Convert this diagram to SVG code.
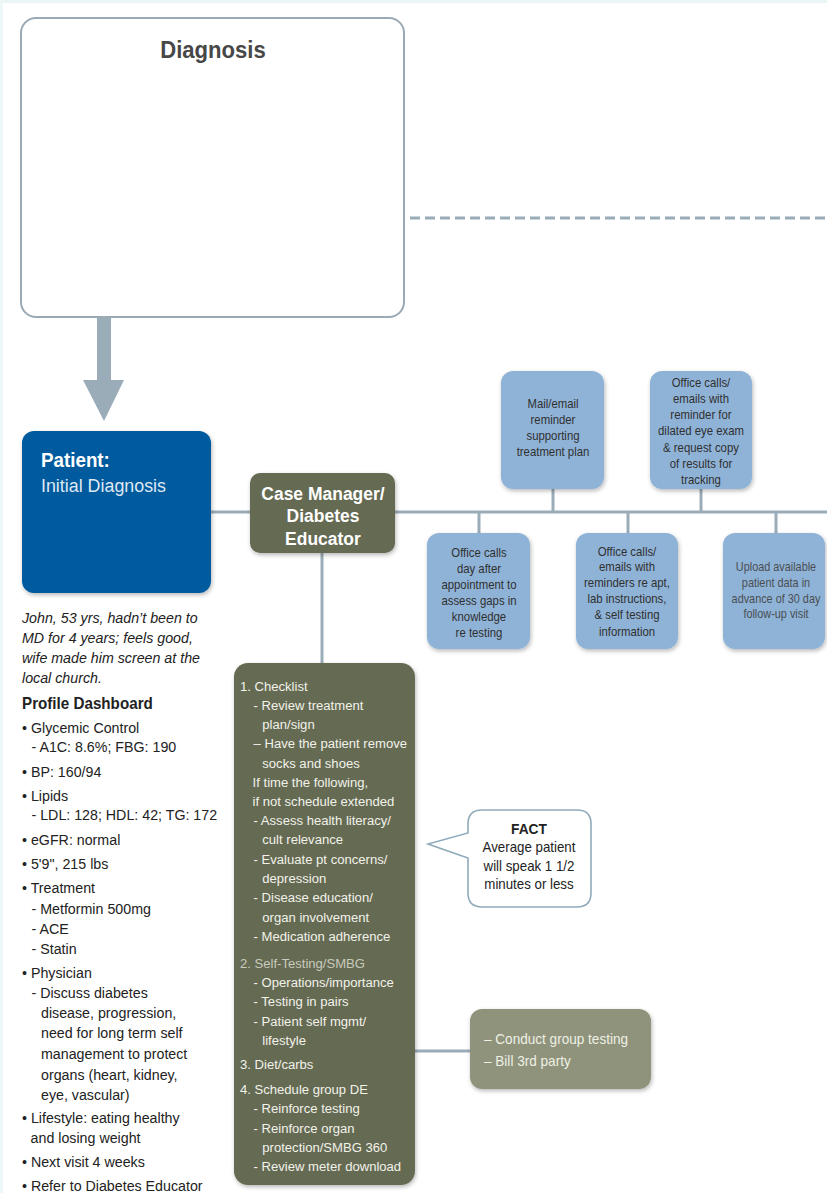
<svg xmlns="http://www.w3.org/2000/svg" width="827" height="1193" viewBox="0 0 827 1193">
<style>
text{font-family:"Liberation Sans Narrow","Liberation Sans",Arial,sans-serif;}
.blue{fill:#8fb3d7;}
.btxt{font-size:12.5px;fill:#2f3030;text-anchor:middle;}
.olive{fill:#656a52;}
.otxt{font-size:13.5px;fill:#f2f2ea;}
.left{font-size:15px;fill:#222;}
.conn{stroke:#9aacb8;stroke-width:3;fill:none;}
</style>
<defs>
<filter id="sh" x="-10%" y="-10%" width="130%" height="130%">
<feDropShadow dx="1" dy="2" stdDeviation="2" flood-color="#000" flood-opacity="0.28"/>
</filter>
</defs>
<rect x="0" y="0" width="827" height="1193" fill="#ffffff"/>
<rect x="0" y="0" width="827" height="3" fill="#eaf5f5"/>
<rect x="0" y="0" width="3" height="1193" fill="#eef7f7"/>

<g id="connectors">
<line class="conn" x1="410" y1="218" x2="827" y2="218" stroke-dasharray="10,5"/>
<rect x="97" y="317" width="14" height="64" fill="#9aacb8"/>
<polygon points="83,380 124,380 104,421" fill="#9aacb8"/>
<line class="conn" x1="211" y1="512" x2="250" y2="512"/>
<line class="conn" x1="395" y1="512" x2="827" y2="512"/>
<line class="conn" x1="553" y1="489" x2="553" y2="512"/>
<line class="conn" x1="701" y1="489" x2="701" y2="512"/>
<line class="conn" x1="479" y1="512" x2="479" y2="533"/>
<line class="conn" x1="628" y1="512" x2="628" y2="533"/>
<line class="conn" x1="776" y1="512" x2="776" y2="533"/>
<line class="conn" x1="322" y1="553" x2="322" y2="663"/>
<line class="conn" x1="415" y1="1051" x2="470" y2="1051"/>
</g>

<g id="diagnosis">
<rect x="21" y="18" width="383" height="299" rx="15" fill="#fff" stroke="#9aaab4" stroke-width="2"/>
<text x="213" y="58" font-size="23" font-weight="bold" fill="#474747" text-anchor="middle" transform="matrix(0.96,0,0,1,8.52,0)">Diagnosis</text>
</g>

<g id="patient">
<rect x="22" y="431" width="189" height="162" rx="12" fill="#005a9e" filter="url(#sh)"/>
<g transform="matrix(0.94,0,0,1,2.46,0)">
<text x="41" y="467" font-size="20" font-weight="bold" fill="#fff">Patient:</text>
<text x="41" y="492" font-size="19" fill="#dfe9f4">Initial Diagnosis</text>
</g>
</g>

<g id="case-manager">
<rect x="250" y="473" width="145" height="80" rx="10" class="olive" filter="url(#sh)"/>
<g transform="matrix(0.92,0,0,1,25.84,0)">
<text x="323" y="500" font-size="19" font-weight="bold" fill="#fff" text-anchor="middle">Case Manager/</text>
<text x="323" y="522" font-size="19" font-weight="bold" fill="#fff" text-anchor="middle">Diabetes</text>
<text x="323" y="545" font-size="19" font-weight="bold" fill="#fff" text-anchor="middle">Educator</text>
</g>
</g>

<g id="mail-reminder">
<rect x="501" y="371" width="103" height="118" rx="12" class="blue" filter="url(#sh)"/>
<g transform="matrix(0.91,0,0,1,49.77,0)">
<text class="btxt" x="553" y="408">Mail/email</text>
<text class="btxt" x="553" y="424">reminder</text>
<text class="btxt" x="553" y="440">supporting</text>
<text class="btxt" x="553" y="456">treatment plan</text>
</g>
</g>

<g id="eye-exam">
<rect x="650" y="371" width="102" height="118" rx="12" class="blue" filter="url(#sh)"/>
<g transform="matrix(0.91,0,0,1,63.09,0)">
<text class="btxt" x="701" y="387">Office calls/</text>
<text class="btxt" x="701" y="403">emails with</text>
<text class="btxt" x="701" y="419">reminder for</text>
<text class="btxt" x="701" y="435">dilated eye exam</text>
<text class="btxt" x="701" y="452">&amp; request copy</text>
<text class="btxt" x="701" y="468">of results for</text>
<text class="btxt" x="701" y="484">tracking</text>
</g>
</g>

<g id="office-calls">
<rect x="427" y="533" width="103" height="116" rx="12" class="blue" filter="url(#sh)"/>
<g transform="matrix(0.91,0,0,1,43.11,0)">
<text class="btxt" x="479" y="557">Office calls</text>
<text class="btxt" x="479" y="573">day after</text>
<text class="btxt" x="479" y="589">appointment to</text>
<text class="btxt" x="479" y="605">assess gaps in</text>
<text class="btxt" x="479" y="621">knowledge</text>
<text class="btxt" x="479" y="637">re testing</text>
</g>
</g>

<g id="reminders-apt">
<rect x="576" y="533" width="102" height="116" rx="12" class="blue" filter="url(#sh)"/>
<g transform="matrix(0.91,0,0,1,56.43,0)">
<text class="btxt" x="627" y="556">Office calls/</text>
<text class="btxt" x="627" y="571">emails with</text>
<text class="btxt" x="627" y="587">reminders re apt,</text>
<text class="btxt" x="627" y="603">lab instructions,</text>
<text class="btxt" x="627" y="619">&amp; self testing</text>
<text class="btxt" x="627" y="636">information</text>
</g>
</g>

<g id="upload">
<rect x="723" y="533" width="102" height="116" rx="12" class="blue" filter="url(#sh)"/>
<g transform="matrix(0.87,0,0,1,100.88,0)">
<text class="btxt" x="776" y="571" style="fill:#4a4e52">Upload available</text>
<text class="btxt" x="776" y="587" style="fill:#4a4e52">patient data in</text>
<text class="btxt" x="776" y="603" style="fill:#4a4e52">advance of 30 day</text>
<text class="btxt" x="776" y="618" style="fill:#4a4e52">follow-up visit</text>
</g>
</g>

<g id="profile" transform="matrix(0.95,0,0,1,1.1,0)">
<text class="left" x="22" y="623" font-style="italic">John, 53 yrs, hadn’t been to</text>
<text class="left" x="22" y="643" font-style="italic">MD for 4 years; feels good,</text>
<text class="left" x="22" y="663" font-style="italic">wife made him screen at the</text>
<text class="left" x="22" y="683" font-style="italic">local church.</text>
<text x="22" y="709" font-size="16" font-weight="bold" fill="#222">Profile Dashboard</text>
<text class="left" x="22" y="733">• Glycemic Control</text>
<text class="left" x="32" y="752">- A1C: 8.6%; FBG: 190</text>
<text class="left" x="22" y="777">• BP: 160/94</text>
<text class="left" x="22" y="801">• Lipids</text>
<text class="left" x="32" y="820">- LDL: 128; HDL: 42; TG: 172</text>
<text class="left" x="22" y="845">• eGFR: normal</text>
<text class="left" x="22" y="869">• 5'9", 215 lbs</text>
<text class="left" x="22" y="893">• Treatment</text>
<text class="left" x="32" y="914">- Metformin 500mg</text>
<text class="left" x="32" y="934">- ACE</text>
<text class="left" x="32" y="954">- Statin</text>
<text class="left" x="22" y="978">• Physician</text>
<text class="left" x="32" y="998">- Discuss diabetes</text>
<text class="left" x="42" y="1018">disease, progression,</text>
<text class="left" x="42" y="1038">need for long term self</text>
<text class="left" x="42" y="1059">management to protect</text>
<text class="left" x="42" y="1080">organs (heart, kidney,</text>
<text class="left" x="42" y="1100">eye, vascular)</text>
<text class="left" x="22" y="1123">• Lifestyle: eating healthy</text>
<text class="left" x="31" y="1143">and losing weight</text>
<text class="left" x="22" y="1167">• Next visit 4 weeks</text>
<text class="left" x="22" y="1191">• Refer to Diabetes Educator</text>
</g>

<g id="checklist">
<rect x="234" y="663" width="181" height="522" rx="14" class="olive" filter="url(#sh)"/>
<g transform="matrix(0.97,0,0,1,7.2,0)">
<text class="otxt" x="240" y="691">1. Checklist</text>
<text class="otxt" x="254" y="710">- Review treatment</text>
<text class="otxt" x="263" y="729">plan/sign</text>
<text class="otxt" x="254" y="748">– Have the patient remove</text>
<text class="otxt" x="263" y="768">socks and shoes</text>
<text class="otxt" x="253" y="787">If time the following,</text>
<text class="otxt" x="253" y="806">if not schedule extended</text>
<text class="otxt" x="254" y="825">- Assess health literacy/</text>
<text class="otxt" x="263" y="844">cult relevance</text>
<text class="otxt" x="254" y="864">- Evaluate pt concerns/</text>
<text class="otxt" x="263" y="883">depression</text>
<text class="otxt" x="254" y="902">- Disease education/</text>
<text class="otxt" x="263" y="922">organ involvement</text>
<text class="otxt" x="254" y="941">- Medication adherence</text>
<text class="otxt" x="240" y="968" style="fill:#c9cbbd">2. Self-Testing/SMBG</text>
<text class="otxt" x="254" y="987">- Operations/importance</text>
<text class="otxt" x="254" y="1006">- Testing in pairs</text>
<text class="otxt" x="254" y="1026">- Patient self mgmt/</text>
<text class="otxt" x="263" y="1045">lifestyle</text>
<text class="otxt" x="240" y="1069">3. Diet/carbs</text>
<text class="otxt" x="240" y="1094">4. Schedule group DE</text>
<text class="otxt" x="254" y="1113">- Reinforce testing</text>
<text class="otxt" x="254" y="1133">- Reinforce organ</text>
<text class="otxt" x="263" y="1152">protection/SMBG 360</text>
<text class="otxt" x="254" y="1171">- Review meter download</text>
</g>
</g>

<g id="fact">
<path d="M482,810 H577 Q591,810 591,824 V893 Q591,907 577,907 H482 Q468,907 468,893 V858 L428,844 L468,833 V824 Q468,810 482,810 Z" fill="#fff" stroke="#8faabb" stroke-width="1.6"/>
<g transform="matrix(0.95,0,0,1,26.45,0)">
<text x="529" y="834" font-size="14.5" font-weight="bold" fill="#222" text-anchor="middle">FACT</text>
<text x="529" y="852" font-size="14" fill="#222" text-anchor="middle">Average patient</text>
<text x="529" y="871" font-size="14" fill="#222" text-anchor="middle">will speak 1 1/2</text>
<text x="529" y="889" font-size="14" fill="#222" text-anchor="middle">minutes or less</text>
</g>
</g>

<g id="group-testing">
<rect x="470" y="1009" width="181" height="80" rx="12" fill="#8f937b" filter="url(#sh)"/>
<g transform="matrix(0.97,0,0,1,14.52,0)">
<text x="484" y="1044" font-size="14" fill="#eef0e4">– Conduct group testing</text>
<text x="484" y="1066" font-size="14" fill="#eef0e4">– Bill 3rd party</text>
</g>
</g>
</svg>
